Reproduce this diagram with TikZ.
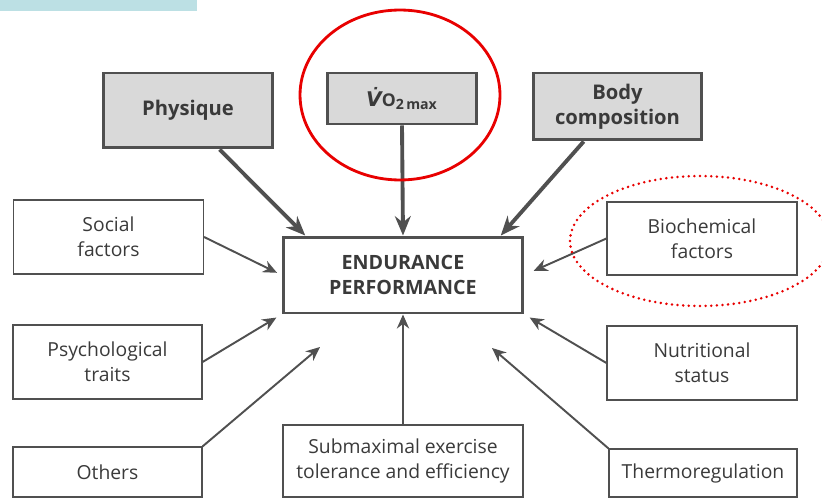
\documentclass[tikz,border=0pt]{standalone}
\usepackage{fontspec}
\setmainfont{Open Sans}
\newfontfamily\djvfont{DejaVu Sans}
\usepackage{xcolor}
\usetikzlibrary{arrows.meta, positioning}
\definecolor{ink}{HTML}{505050}
\definecolor{txt}{HTML}{3A3A3A}
\definecolor{shade}{HTML}{D9D9D9}
\definecolor{strip}{HTML}{BCE0E4}
\definecolor{hilite}{HTML}{E80000}

\begin{document}
\begin{tikzpicture}[
  x=0.02cm, y=-0.02cm,
  factor/.style={draw=ink, line width=0.7pt, align=center, text=txt,
    font=\fontsize{11}{14}\selectfont, minimum width=#1, inner sep=2pt},
  factor/.default=3.8cm,
  key/.style={draw=ink, line width=1.7pt, fill=shade, align=center, text=txt,
    font=\fontsize{11.5}{14}\selectfont\bfseries},
  main/.style={draw=ink, line width=1.7pt, align=center, text=txt,
    minimum width=4.8cm, minimum height=1.52cm,
    font=\fontsize{11.2}{14}\selectfont\bfseries},
  bigarr/.style={-{Stealth[length=11pt, width=9pt]}, draw=ink, line width=2.2pt},
  arr/.style={-{Stealth[length=8pt, width=7pt]}, draw=ink, line width=1.1pt},
]
  \useasboundingbox (0,0) rectangle (822,500);
  \fill[strip] (0,0) rectangle (197,11);

  % top row
  \node[key, minimum width=3.4cm, minimum height=1.5cm] (phys) at (188,110.5) {Physique};
  \node[key, minimum width=3.0cm, minimum height=1.02cm] (vo) at (402,98.5)
    {{\djvfont\itshape V\char"0307}{\fontsize{10}{12}\selectfont O}\textsubscript{2\,max}};
  \node[key, minimum width=3.38cm, minimum height=1.34cm] (body) at (617.5,106.5) {Body\\composition};

  \node[main] (endur) at (403,275) {ENDURANCE\\PERFORMANCE};

  % side boxes
  \node[factor, minimum height=1.48cm] (social) at (108.5,237) {Social\\factors};
  \node[factor, minimum height=1.46cm] (bio) at (702,238.5) {Biochemical\\factors};
  \node[factor=3.78cm, minimum height=1.48cm] (psych) at (107.5,362) {Psychological\\traits};
  \node[factor, minimum height=1.48cm] (nutri) at (702,363) {Nutritional\\status};
  \node[factor=3.78cm, minimum height=1.0cm] (others) at (107.5,472) {Others};
  \node[factor=4.8cm, minimum height=1.44cm] (sub) at (403,461) {Submaximal exercise\\tolerance and efficiency};
  \node[factor=3.76cm, minimum height=0.96cm] (thermo) at (703,473) {Thermoregulation};

  \coordinate (othersend) at (320,347);
  \coordinate (thermoend) at (492,348);

  \draw[bigarr] (phys.-51) -- (endur.158);
  \draw[bigarr] (vo.south) -- (endur.north);
  \draw[bigarr] (body.226) -- (endur.22);

  \draw[arr, shorten >=0.1cm] (social.east) -- (endur.west);
  \draw[arr, shorten >=0.12cm] (psych.east) -- (endur.south west);
  \draw[arr] (others.north east) -- (othersend);
  \draw[arr] (sub.north) -- (endur.south);
  \draw[arr] (thermo.north west) -- (thermoend);
  \draw[arr, shorten >=0.12cm] (nutri.west) -- (endur.south east);
  \draw[arr, shorten >=0.2cm] (bio.west) -- (endur.east);

  % highlights
  \draw[hilite, line width=1.6pt] (400,95) ellipse [x radius=2cm, y radius=1.7cm];
  \draw[hilite, line width=1.6pt, line cap=round, dash pattern=on 0pt off 3.2pt]
    (700,241) ellipse [x radius=2.6cm, y radius=1.3cm];
\end{tikzpicture}
\end{document}
